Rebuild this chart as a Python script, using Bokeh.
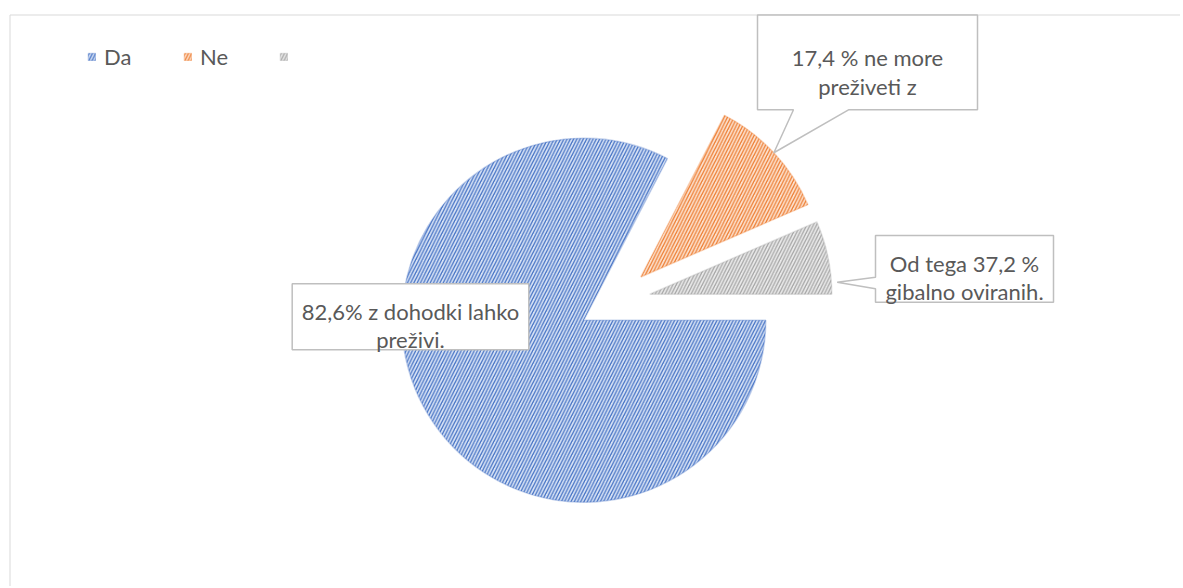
import numpy as np
from bokeh.plotting import figure
from bokeh.models import ColumnDataSource, Range1d, Legend, LegendItem
from bokeh.core.properties import value
from bokeh.embed import file_html
from bokeh.resources import INLINE

# ---- data ----
categories = ["Da", "Ne", " "]
shares = [82.6, 10.9, 6.5]
fill_colors = ["#D9E3F5", "#FCE2D0", "#EAEAEA"]
hatch_colors = ["#4472C4", "#ED7D31", "#A5A5A5"]
callout_lines = [
    ["82,6% z dohodki lahko", "preživi."],
    ["17,4 % ne more", "preživeti z"],
    ["Od tega 37,2 %", "gibalno oviranih."],
]

# ---- layout helpers (1 data unit = 1 px) ----
W, H = 1180, 586
M = 0
def X(px):
    return px - M
def Y(py):
    return (H + M) - py

FONT = "Lato"
TXT = "#595959"
BORDER = "#BFBFBF"

p = figure(width=W, height=H, output_backend="svg", toolbar_location=None,
           x_range=Range1d(0, W), y_range=Range1d(0, H),
           x_axis_type=None, y_axis_type=None, min_border=0,
           outline_line_color=None)
p.grid.visible = False
p.background_fill_color = "white"

# chart area border (top & left visible)
p.line(x=[X(9.5), X(9.5), X(1300)], y=[Y(700), Y(14.5), Y(14.5)],
       line_color="#D9D9D9", line_width=1)

# ---- pie ----
cx, cy = X(614), Y(301)
R = 182
explode = 36
frac = np.array(shares) / sum(shares)
cum = np.concatenate([[0.0], np.cumsum(frac)])
a_start = -2 * np.pi * cum[1:]
a_end = -2 * np.pi * cum[:-1]
mid = (a_start + a_end) / 2
xs = cx + explode * np.cos(mid)
ys = cy + explode * np.sin(mid)

src = ColumnDataSource(dict(x=xs, y=ys, start=a_start, end=a_end,
                            fill=fill_colors, hatch=hatch_colors, cat=categories))
wr = p.wedge(x="x", y="y", radius=R, start_angle="start", end_angle="end",
             source=src, fill_color="fill", hatch_color="hatch",
             hatch_pattern="/", hatch_scale=6.5, hatch_weight=1.3,
             line_color="hatch", line_alpha=0.3, line_width=1.5)

# ---- callouts ----
tip_o = (xs[1] + R * np.cos(mid[1]), ys[1] + R * np.sin(mid[1]))
b1 = dict(l=X(757), r=X(977), t=Y(14.5), b=Y(109.3))
p.patch(x=[b1["l"], b1["r"], b1["r"], X(848), tip_o[0], X(793), b1["l"]],
        y=[b1["t"], b1["t"], b1["b"], b1["b"], tip_o[1], b1["b"], b1["b"]],
        fill_color="white", line_color=BORDER, line_width=1.5)

b2 = dict(l=X(875), r=X(1053), t=Y(235), b=Y(301.7))
p.patch(x=[b2["l"], b2["r"], b2["r"], b2["l"], b2["l"], X(836.7), b2["l"]],
        y=[b2["t"], b2["t"], b2["b"], b2["b"], Y(288.3), Y(281.7), Y(276.7)],
        fill_color="white", line_color=BORDER, line_width=1.5)

p.quad(left=X(291.7), right=X(528.3), top=Y(283.3), bottom=Y(349.3),
       fill_color="white", line_color=BORDER, line_width=1.5)

text_x = [X(410), X(410), X(867), X(867), X(964), X(964)]
text_y = [Y(311), Y(339), Y(56.5), Y(85.5), Y(262.5), Y(290.5)]
texts = [t for pair in callout_lines for t in pair]
tsrc = ColumnDataSource(dict(x=text_x, y=text_y, t=texts))
p.text(x="x", y="y", text="t", source=tsrc, text_font=value(FONT),
       text_font_size="22px", text_color=TXT, text_align="center",
       text_baseline="alphabetic")

# ---- legend ----
items = [LegendItem(label=categories[i], renderers=[wr], index=i) for i in range(3)]
legend = Legend(items=items, orientation="horizontal", location=(87, H - 70),
                glyph_width=9, glyph_height=9, label_standoff=8, label_width=79,
                spacing=0, padding=0, margin=0, border_line_alpha=0,
                background_fill_alpha=0, label_text_font=FONT,
                label_text_font_size="22px", label_text_color=TXT)
p.add_layout(legend, "center")

open("out.html", "w").write(file_html(p, INLINE))
